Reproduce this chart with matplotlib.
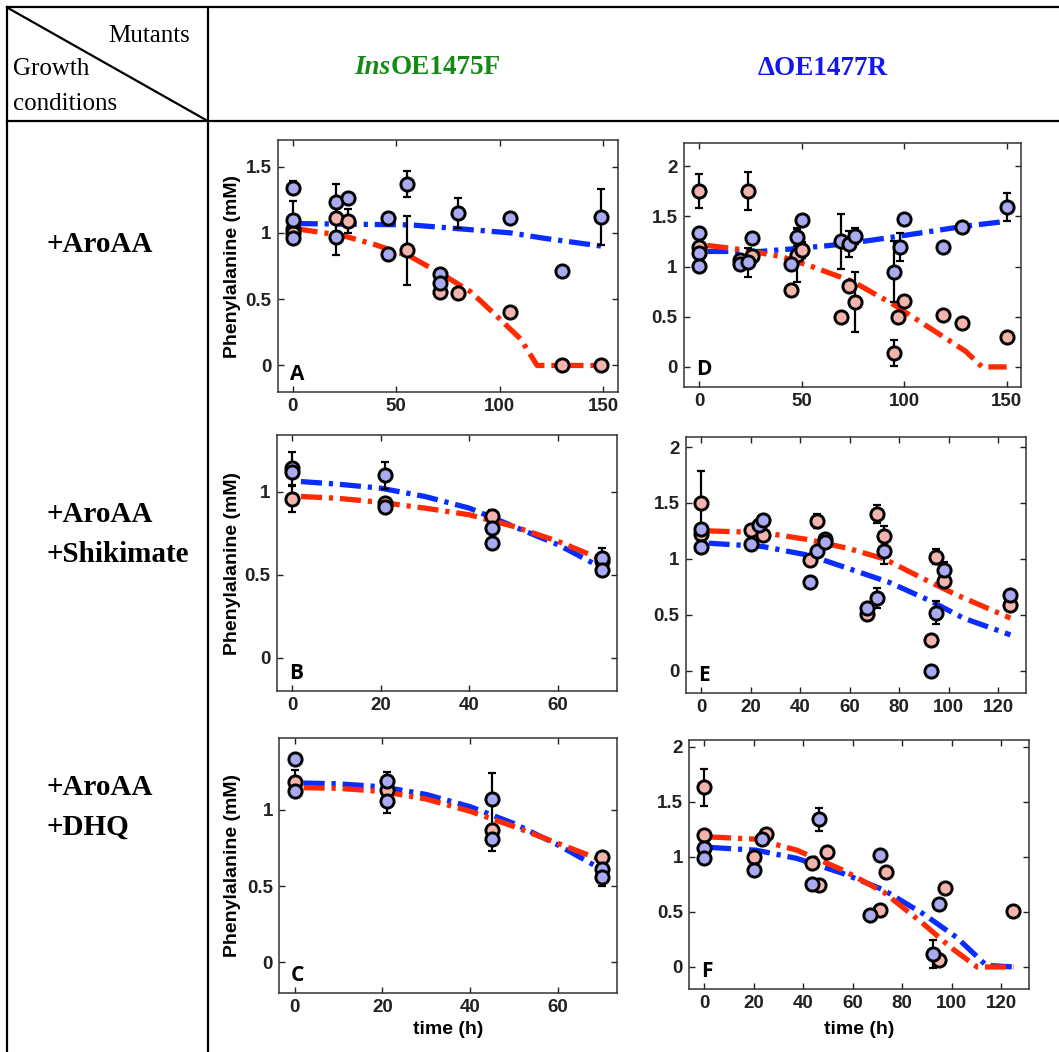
import matplotlib
matplotlib.use("Agg")
import matplotlib.pyplot as plt
from matplotlib.lines import Line2D
import numpy as np

W, H = 1059, 1052

# ---- data (time in h, phenylalanine in mM) ------------------------------
# Panel A: InsOE1475F, +AroAA
A_pink_t = [0, 0, 21, 27, 55, 71, 80, 105, 130, 149]
A_pink_y = [1.03, 1.00, 1.11, 1.09, 0.87, 0.555, 0.55, 0.40, 0.0, 0.0]
A_pink_e = [0, 0, 0, 0.09, 0.26, 0, 0, 0, 0, 0]
A_blue_t = [0, 0, 0, 21, 21, 27, 46, 46, 55, 71, 71, 80, 105, 130, 149]
A_blue_y = [1.34, 1.10, 0.96, 1.23, 0.97, 1.26, 1.11, 0.84, 1.37, 0.69, 0.62, 1.15, 1.11, 0.71, 1.12]
A_blue_e = [0.05, 0.14, 0, 0.14, 0.14, 0, 0, 0.04, 0.10, 0.03, 0, 0.11, 0, 0, 0.21]
A_red_fit_t = [2, 24, 40, 57, 73, 86, 98, 110, 118, 149]
A_red_fit_y = [1.03, 0.98, 0.91, 0.82, 0.68, 0.555, 0.38, 0.20, 0.0, 0.0]
A_blue_fit_t = [2, 57, 81, 105, 121, 149]
A_blue_fit_y = [1.07, 1.06, 1.03, 1.00, 0.96, 0.90]

# Panel D: dOE1477R, +AroAA
D_pink_t = [0, 0, 20, 24, 26, 45, 48, 50, 69, 73, 76, 95, 97, 100, 119, 128, 150]
D_pink_y = [1.75, 1.19, 1.06, 1.75, 1.10, 0.77, 1.11, 1.16, 0.495, 0.81, 0.65, 0.14, 0.495, 0.66, 0.52, 0.44, 0.30]
D_pink_e = [0.17, 0, 0, 0.19, 0, 0, 0.26, 0.08, 0, 0, 0.30, 0.13, 0, 0, 0.03, 0, 0]
D_blue_t = [0, 0, 0, 20, 24, 26, 45, 48, 50, 69, 73, 76, 95, 98, 100, 119, 128, 150]
D_blue_y = [1.33, 1.13, 1.01, 1.02, 1.04, 1.28, 1.02, 1.29, 1.46, 1.25, 1.22, 1.30, 0.95, 1.19, 1.47, 1.19, 1.39, 1.59]
D_blue_e = [0, 0.06, 0, 0, 0.14, 0, 0, 0.09, 0, 0.27, 0.13, 0.08, 0.30, 0.14, 0, 0, 0, 0.14]
D_red_fit_t = [4, 20, 40, 55, 75, 95, 115, 130, 138, 150]
D_red_fit_y = [1.21, 1.17, 1.10, 1.00, 0.85, 0.62, 0.355, 0.156, 0.0, 0.0]
D_blue_fit_t = [4, 30, 48, 64, 80, 97, 113, 129, 150]
D_blue_fit_y = [1.15, 1.15, 1.18, 1.21, 1.25, 1.30, 1.35, 1.40, 1.45]

# Panel B: InsOE1475F, +AroAA +Shikimate
B_pink_t = [0, 21, 45, 70]
B_pink_y = [0.955, 0.93, 0.85, 0.58]
B_pink_e = [0.08, 0, 0.04, 0]
B_blue_t = [0, 0, 21, 21, 45, 45, 70, 70]
B_blue_y = [1.14, 1.12, 1.097, 0.905, 0.78, 0.69, 0.60, 0.53]
B_blue_e = [0.10, 0, 0.08, 0, 0, 0, 0.06, 0]
B_red_fit_t = [2, 10, 20, 30, 40, 50, 60, 70]
B_red_fit_y = [0.97, 0.96, 0.935, 0.90, 0.86, 0.79, 0.70, 0.59]
B_blue_fit_t = [2, 10, 20, 30, 40, 50, 60, 70]
B_blue_fit_y = [1.06, 1.045, 1.02, 0.97, 0.90, 0.79, 0.68, 0.54]

# Panel E: dOE1477R, +AroAA +Shikimate
E_pink_t = [0, 0, 20, 25, 44, 47, 50, 67, 71, 74, 93, 95, 98, 125]
E_pink_y = [1.50, 1.22, 1.26, 1.21, 0.99, 1.34, 1.18, 0.51, 1.40, 1.20, 0.27, 1.02, 0.80, 0.59]
E_pink_e = [0.29, 0, 0, 0, 0, 0.06, 0, 0, 0.08, 0.09, 0, 0.07, 0, 0]
E_blue_t = [0, 0, 20, 23.5, 25, 44, 47, 50, 67, 71, 74, 93, 95, 98, 125]
E_blue_y = [1.27, 1.11, 1.13, 1.30, 1.35, 0.79, 1.07, 1.15, 0.56, 0.65, 1.07, 0.0, 0.52, 0.90, 0.68]
E_blue_e = [0, 0, 0, 0, 0, 0, 0, 0, 0, 0.09, 0.12, 0, 0.10, 0.07, 0]
E_red_fit_t = [3, 25, 44, 60, 74, 90, 103, 125]
E_red_fit_y = [1.25, 1.235, 1.17, 1.09, 1.00, 0.82, 0.68, 0.47]
E_blue_fit_t = [3, 25, 44, 60, 76, 93, 106, 125]
E_blue_fit_y = [1.14, 1.11, 1.03, 0.91, 0.79, 0.62, 0.47, 0.32]

# Panel C: InsOE1475F, +AroAA +DHQ
C_pink_t = [0, 21, 45, 70]
C_pink_y = [1.18, 1.13, 0.87, 0.69]
C_pink_e = [0.08, 0, 0, 0]
C_blue_t = [0, 0, 21, 21, 45, 45, 70, 70]
C_blue_y = [1.33, 1.12, 1.19, 1.055, 1.07, 0.81, 0.61, 0.56]
C_blue_e = [0, 0, 0.055, 0.075, 0.17, 0.08, 0, 0.06]
C_red_fit_t = [2, 10, 20, 30, 40, 50, 60, 70]
C_red_fit_y = [1.145, 1.14, 1.12, 1.07, 0.99, 0.89, 0.78, 0.67]
C_blue_fit_t = [2, 10, 20, 30, 40, 50, 60, 70]
C_blue_fit_y = [1.175, 1.17, 1.15, 1.10, 1.02, 0.91, 0.77, 0.61]

# Panel F: dOE1477R, +AroAA +DHQ
F_pink_t = [0, 0, 20, 25, 43.5, 46.5, 49.5, 71, 73.5, 95, 97.5, 125]
F_pink_y = [1.63, 1.20, 1.00, 1.21, 0.945, 0.74, 1.04, 0.515, 0.86, 0.067, 0.72, 0.51]
F_pink_e = [0.165, 0, 0, 0.04, 0, 0.05, 0.05, 0, 0, 0.05, 0, 0]
F_blue_t = [0, 0, 20, 23.5, 43.5, 46.5, 67, 71, 92.5, 95]
F_blue_y = [1.08, 0.99, 0.88, 1.16, 0.75, 1.34, 0.475, 1.015, 0.12, 0.57]
F_blue_e = [0, 0, 0.05, 0.05, 0, 0.105, 0, 0, 0.125, 0.04]
F_red_fit_t = [2.4, 21, 37.5, 56, 72.5, 88.7, 99.5, 110.3, 125]
F_red_fit_y = [1.18, 1.16, 1.06, 0.88, 0.68, 0.39, 0.18, 0.0, 0.0]
F_blue_fit_t = [2.4, 21, 37.5, 56, 72.5, 88.7, 102, 114, 125]
F_blue_fit_y = [1.085, 1.06, 0.985, 0.85, 0.70, 0.48, 0.27, 0.015, 0.0]

col_labels = ["OE1475F", "\u0394OE1477R"]
row_labels = ["+AroAA", "+AroAA\n+Shikimate", "+AroAA\n+DHQ"]

PINK, LAV = "#f4b4ae", "#aaaaf0"
RED, BLUE = "#ff2a00", "#0a2dff"
TICK_FONT = dict(family="Liberation Sans", weight="bold", size=13.5)
SERIF = "Liberation Serif"

fig = plt.figure(figsize=(W / 100, H / 100), dpi=100)


def px(x, y):
    return x / W, 1 - y / H


def add_axes(x0, y0, x1, y1):
    return fig.add_axes([x0 / W, 1 - y1 / H, (x1 - x0) / W, (y1 - y0) / H])


def draw_points(ax, t, y, e, face):
    t, y, e = np.asarray(t), np.asarray(y), np.asarray(e)
    m = e > 0
    if m.any():
        ax.errorbar(t[m], y[m], yerr=e[m], fmt="none", ecolor="black",
                    elinewidth=1.6, capsize=2.8, capthick=1.6, zorder=3)
    ax.plot(t, y, "o", mfc=face, mec="black", ms=9.5, mew=2.1, zorder=4)


def draw_fit(ax, t, y, color):
    ax.plot(t, y, color=color, lw=3.8, dashes=(4, 1.3, 0.8, 1.3), zorder=2,
            solid_capstyle="butt", dash_capstyle="butt")


panels = [
    # letter, box (px), xlim, ylim, xticks, yticks, pink, blue, red fit, blue fit
    ("A", (278, 140, 618, 392), (-7, 157), (-0.2, 1.70), [0, 50, 100, 150], [0, 0.5, 1, 1.5],
     (A_pink_t, A_pink_y, A_pink_e), (A_blue_t, A_blue_y, A_blue_e),
     (A_red_fit_t, A_red_fit_y), (A_blue_fit_t, A_blue_fit_y)),
    ("D", (684, 143, 1021, 387), (-7.3, 157), (-0.2, 2.23), [0, 50, 100, 150], [0, 0.5, 1, 1.5, 2],
     (D_pink_t, D_pink_y, D_pink_e), (D_blue_t, D_blue_y, D_blue_e),
     (D_red_fit_t, D_red_fit_y), (D_blue_fit_t, D_blue_fit_y)),
    ("B", (277, 435, 617, 691), (-3.4, 73.3), (-0.2, 1.34), [0, 20, 40, 60], [0, 0.5, 1],
     (B_pink_t, B_pink_y, B_pink_e), (B_blue_t, B_blue_y, B_blue_e),
     (B_red_fit_t, B_red_fit_y), (B_blue_fit_t, B_blue_fit_y)),
    ("E", (686, 437, 1026, 693), (-6.1, 131.3), (-0.2, 2.09), [0, 20, 40, 60, 80, 100, 120], [0, 0.5, 1, 1.5, 2],
     (E_pink_t, E_pink_y, E_pink_e), (E_blue_t, E_blue_y, E_blue_e),
     (E_red_fit_t, E_red_fit_y), (E_blue_fit_t, E_blue_fit_y)),
    ("C", (279, 738, 617, 993), (-3.6, 73.5), (-0.2, 1.47), [0, 20, 40, 60], [0, 0.5, 1],
     (C_pink_t, C_pink_y, C_pink_e), (C_blue_t, C_blue_y, C_blue_e),
     (C_red_fit_t, C_red_fit_y), (C_blue_fit_t, C_blue_fit_y)),
    ("F", (689, 740, 1029, 989), (-6.1, 131.3), (-0.2, 2.06), [0, 20, 40, 60, 80, 100, 120], [0, 0.5, 1, 1.5, 2],
     (F_pink_t, F_pink_y, F_pink_e), (F_blue_t, F_blue_y, F_blue_e),
     (F_red_fit_t, F_red_fit_y), (F_blue_fit_t, F_blue_fit_y)),
]

for letter, box, xlim, ylim, xt, yt, pink, blue, rfit, bfit in panels:
    ax = add_axes(*box)
    draw_fit(ax, *bfit, BLUE)
    draw_fit(ax, *rfit, RED)
    draw_points(ax, *pink, PINK)
    draw_points(ax, *blue, LAV)
    ax.set_xlim(*xlim)
    ax.set_ylim(*ylim)
    ax.set_xticks(xt)
    ax.set_yticks(yt)
    ax.set_xticklabels([f"{v:g}" for v in xt], fontdict=TICK_FONT)
    ax.set_yticklabels([f"{v:g}" for v in yt], fontdict=TICK_FONT)
    ax.tick_params(direction="in", length=4, width=1, top=True, right=True,
                   pad=4.5, colors="#222222")
    for s in ax.spines.values():
        s.set_linewidth(1.1)
        s.set_color("#333333")
    ax.text(0.035, 0.07, letter, transform=ax.transAxes, ha="left", va="center",
            family="Open Sans", weight="bold", size=15)
    if letter in "ABC":
        ax.set_ylabel("Phenylalanine (mM)", family="Liberation Sans", weight="bold", size=14)
        ax.yaxis.set_label_coords((241 - box[0]) / (box[2] - box[0]), 0.5)
    if letter in "CF":
        ax.set_xlabel("time (h)", family="Liberation Sans", weight="bold", size=14)
        ax.xaxis.set_label_coords(0.5, -(1021 - box[3]) / (box[3] - box[1]))

# ---- table frame -----------------------------------------------------------
frame = dict(color="black", lw=1.6)
for (xa, ya), (xb, yb) in [((7, 7), (W, 7)), ((7, 7), (7, H)), ((208, 7), (208, H)),
                           ((7, 121), (W, 121)), ((8, 8), (206, 120))]:
    (x0, y0), (x1, y1) = px(xa, ya), px(xb, yb)
    fig.add_artist(Line2D([x0, x1], [y0, y1], transform=fig.transFigure, **frame))

fig.text(*px(190, 42), "Mutants", ha="right", va="baseline", family=SERIF, size=18)
fig.text(*px(13, 75), "Growth", ha="left", va="baseline", family=SERIF, size=18)
fig.text(*px(13, 110), "conditions", ha="left", va="baseline", family=SERIF, size=18)

t_ins = fig.text(*px(354, 74), "Ins", ha="left", va="baseline", family=SERIF,
                 style="italic", weight="bold", size=19.5, color="#138a13")
fig.canvas.draw()
bb = t_ins.get_window_extent()
fig.text(bb.x1 / W, 1 - 74 / H, col_labels[0], ha="left", va="baseline", family=SERIF,
         weight="bold", size=19.5, color="#138a13")
fig.text(*px(823, 75), col_labels[1], ha="center", va="baseline", family=SERIF,
         weight="bold", size=19.5, color="#1515ee")

row_base = [(252,), (522, 562), (795, 835)]
for lab, bases in zip(row_labels, row_base):
    for line, yb in zip(lab.split("\n"), bases):
        fig.text(*px(47, yb), line, ha="left", va="baseline", family=SERIF,
                 weight="bold", size=21)

fig.savefig("out.png", dpi=100, facecolor="white")
